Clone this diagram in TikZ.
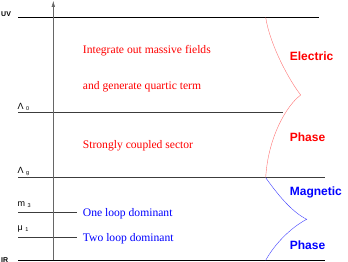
\documentclass[tikz,border=0pt]{standalone}
\usepackage{fontspec}
\setmainfont{Liberation Serif}
\setsansfont{Liberation Sans}
\usepackage{tikz}
\usetikzlibrary{arrows,arrows.meta,positioning,calc}
\definecolor{elec}{RGB}{255,0,0}
\definecolor{magn}{RGB}{0,0,255}
\definecolor{lvlgray}{RGB}{60,60,60}
\newcommand{\lvl}[2]{#1\hspace{2.6pt}\raisebox{-1pt}{\fontsize{5.5}{6}\selectfont #2}}
\tikzset{
  flow/.style={>=latex,line width=0.4pt},
  level/.style={draw=lvlgray,line width=1pt},
  lvltxt/.style={font=\fontsize{9}{10}\sffamily,anchor=base west,inner sep=0pt},
  edge/.style={font=\fontsize{7}{8}\sffamily\bfseries,anchor=base west,inner sep=0pt},
  note/.style={font=\fontsize{11.6}{13}\selectfont,anchor=base west,inner sep=0pt},
  phase/.style={font=\fontsize{12}{14}\sffamily\bfseries,anchor=base west,inner sep=0pt},
}
\begin{document}
\begin{tikzpicture}[flow,x=1pt,y=-1pt]
\useasboundingbox (0,0) rectangle (348,262);
% energy scales
\coordinate (uvL) at (18,17.5);   \coordinate (uvR) at (319,17.5);
\coordinate (l0L) at (18,112.7);  \coordinate (l0R) at (283,112.7);
\coordinate (lgL) at (18,177.7);  \coordinate (lgR) at (325,177.7);
\coordinate (m3L) at (18,212.7);  \coordinate (m3R) at (76.7,212.7);
\coordinate (mu1L) at (18,237.7); \coordinate (mu1R) at (76.7,237.7);
\coordinate (irL) at (18,260.3);  \coordinate (irR) at (325,260.3);
\draw[level,draw=black] (uvL) -- (uvR);
\draw[level] (l0L) -- (l0R); \draw[level] (lgL) -- (lgR);
\draw[level] (m3L) -- (m3R); \draw[level] (mu1L) -- (mu1R);
\draw[level,draw=black] (irL) -- (irR);
% axis
\coordinate (ax0) at (53.3,260.3); \coordinate (ax1) at (53.3,1);
\draw[-{Latex[length=6pt,width=3.6pt]},black!60] (ax0) -- (ax1);
% phase boundaries
\coordinate (eTop) at (265.7,17.5); \coordinate (cE) at (300.7,95);
\coordinate (eBot) at (265.7,177.7); \coordinate (cM) at (306.7,219.3);
\coordinate (mBot) at (265.7,260.3);
\draw[elec!55] (eTop) .. controls (270,45) and (289,80) .. (cE)
  .. controls (286,106) and (268,138) .. (eBot);
\draw[magn!75] (eBot) .. controls (278,195) and (292,212) .. (cM)
  .. controls (290,228) and (274,245) .. (mBot);
% scale labels
\node[edge] (uv) at (1,17) {UV};
\node[edge] (ir) at (1,262) {IR};
\node[lvltxt] (lam0) at (17.3,109.5) {\lvl{Λ}{0}};
\node[lvltxt] (lamg) at (17.3,173) {\lvl{Λ}{g}};
\node[lvltxt] (m3) at (17.3,206) {\lvl{m}{3}};
\node[lvltxt] (mu1) at (17.3,230.5) {\lvl{μ}{1}};
% regions
\node[note,elec] (int) at (82.7,54) {Integrate out massive fields};
\node[note,elec] (gen) at (82.7,89) {and generate quartic term};
\node[note,elec] (strong) at (82.7,148.3) {Strongly coupled sector};
\node[note,magn] (one) at (82.7,216) {One loop dominant};
\node[note,magn] (two) at (82.7,241.7) {Two loop dominant};
\node[phase,elec] (el) at (289.7,60) {Electric};
\node[phase,elec] (ph1) at (289.7,141.7) {Phase};
\node[phase,magn] (mag) at (289.7,195.5) {Magnetic};
\node[phase,magn] (ph2) at (289.7,249.3) {Phase};
\end{tikzpicture}
\end{document}
